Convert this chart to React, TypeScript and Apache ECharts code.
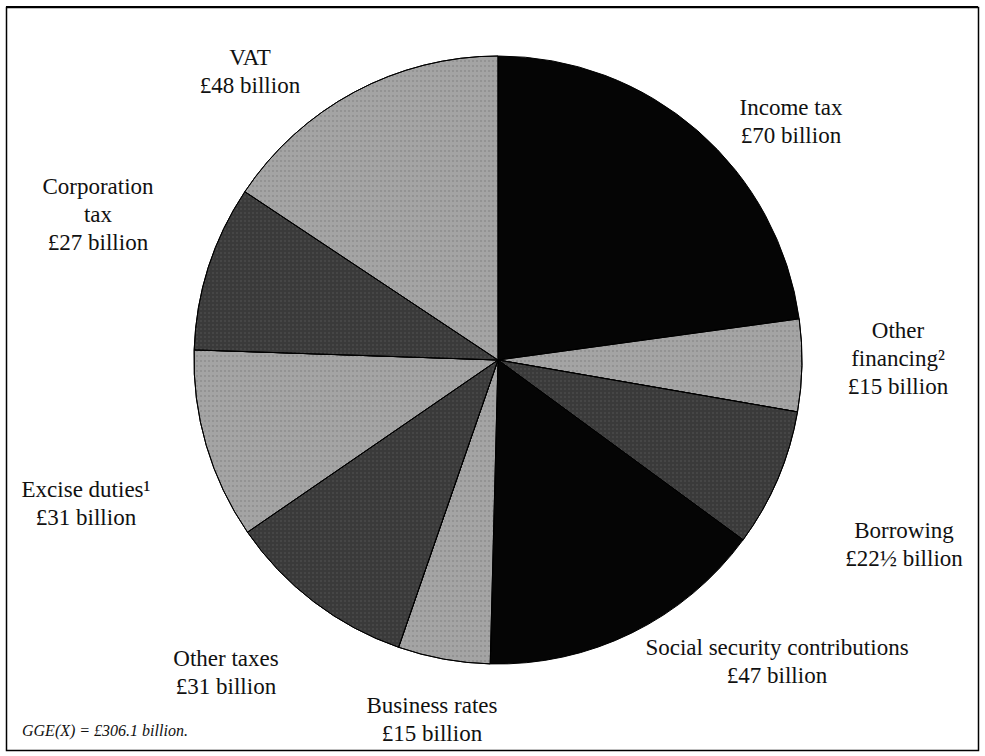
import React, { useEffect, useRef } from "react";
import * as echarts from "echarts";

const categories = [
  "Income tax",
  "Other financing",
  "Borrowing",
  "Social security contributions",
  "Business rates",
  "Other taxes",
  "Excise duties",
  "Corporation tax",
  "VAT",
];
const values = [70, 15, 22.5, 47, 15, 31, 31, 27, 48];
const labelTexts = [
  "Income tax\n£70 billion",
  "Other\nfinancing²\n£15 billion",
  "Borrowing\n£22½ billion",
  "Social security contributions\n£47 billion",
  "Business rates\n£15 billion",
  "Other taxes\n£31 billion",
  "Excise duties¹\n£31 billion",
  "Corporation\ntax\n£27 billion",
  "VAT\n£48 billion",
];
const shades = ["black", "light", "dark", "black", "light", "dark", "light", "dark", "light"];
const footnote = "GGE(X) = £306.1 billion.";

// label block centres (layout only)
const labelPos: [number, number][] = [
  [791, 121],
  [898, 358],
  [904, 544],
  [777, 661],
  [432, 719],
  [226, 672],
  [86, 503],
  [98, 214],
  [250, 71],
];

const FONT = "Liberation Serif, Times New Roman, serif";

function styleFor(shade: string) {
  if (shade === "black") return { color: "#050505" };
  if (shade === "light")
    return {
      color: "#a4a4a4",
      decal: {
        symbol: "rect",
        symbolSize: 0.5,
        color: "rgba(40,40,40,0.55)",
        dashArrayX: [2, 2],
        dashArrayY: [2, 3],
        rotation: 0,
      },
    };
  return {
    color: "#3a3a3a",
    decal: {
      symbol: "rect",
      symbolSize: 0.5,
      color: "rgba(150,150,150,0.5)",
      dashArrayX: [2, 2],
      dashArrayY: [2, 2],
      rotation: 0,
    },
  };
}

export default function App() {
  const ref = useRef<HTMLDivElement>(null);
  useEffect(() => {
    if (!ref.current) return;
    const chart = echarts.init(ref.current, null, { renderer: "svg" });
    const labelStyle = {
      show: true,
      position: "outside",
      color: "#111",
      fontFamily: FONT,
      fontSize: 23,
      lineHeight: 28,
      align: "center",
    };
    const data = categories.map((name, i) => ({
      name,
      value: values[i],
      itemStyle: { ...styleFor(shades[i]), borderColor: "#000", borderWidth: 1 },
      label: { ...labelStyle, formatter: labelTexts[i] },
    }));
    chart.setOption({
      animation: false,
      backgroundColor: "#fff",
      textStyle: { fontFamily: FONT },
      graphic: [
        {
          type: "rect",
          shape: { x: 6.5, y: 7.5, width: 972, height: 743 },
          style: { fill: "none", stroke: "#000", lineWidth: 1.5 },
        },
        {
          type: "line",
          shape: { x1: 6, y1: 7, x2: 978, y2: 7 },
          style: { stroke: "#000", lineWidth: 2 },
        },
        {
          type: "text",
          left: 22,
          top: 722,
          style: {
            text: footnote,
            fontFamily: FONT,
            fontStyle: "italic",
            fontSize: 16,
            fill: "#111",
          },
        },
      ],
      series: [
        {
          type: "pie",
          center: [498, 360],
          radius: [0, 304],
          startAngle: 90,
          clockwise: true,
          avoidLabelOverlap: false,
          label: labelStyle,
          labelLine: { show: false },
          labelLayout: (params: any) => {
            const p = labelPos[params.dataIndex];
            return { x: p[0], y: p[1], align: "center", verticalAlign: "middle" };
          },
          emphasis: { disabled: true },
          data,
        },
      ],
    });
    return () => chart.dispose();
  }, []);
  return (
    <div
      ref={ref}
      style={{ position: "fixed", left: 0, top: 0, width: 985, height: 756, background: "#fff" }}
    />
  );
}
